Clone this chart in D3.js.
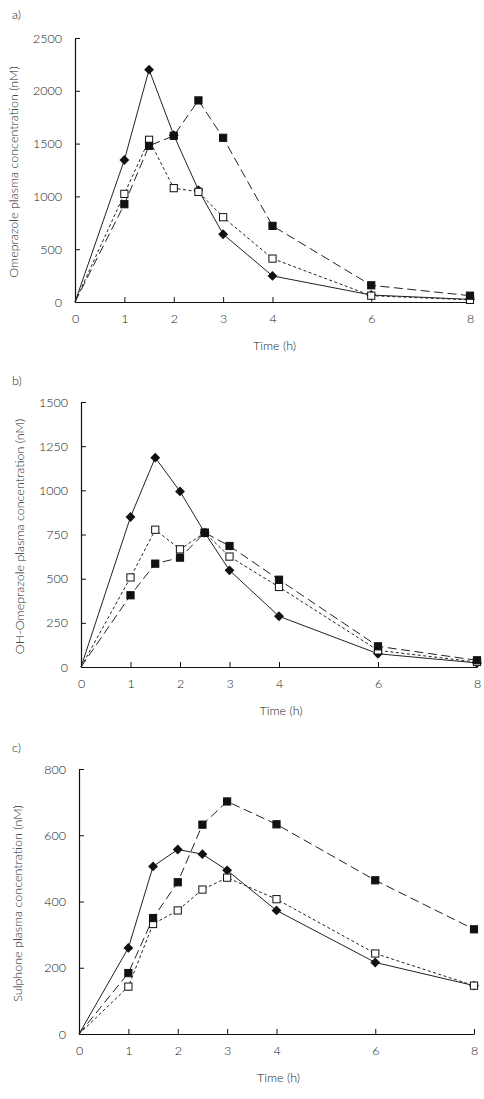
<!DOCTYPE html>
<html><head><meta charset="utf-8">
<script src="https://cdn.jsdelivr.net/npm/d3@7"></script>
<style>
html,body{margin:0;padding:0;background:#fff;}
text{font-family:Lato,"Open Sans",sans-serif;fill:#222;font-weight:300;}
</style></head>
<body>
<svg id="chart" width="484" height="1099"></svg>
<script>
const times = [0, 1, 1.5, 2, 2.5, 3, 4, 6, 8];
const xTicks = [0, 1, 2, 3, 4, 6, 8];

const omeDiamond = [0, 1345, 2200, 1580, 1060, 642, 247, 66, 25];
const omeFilled  = [0, 926, 1479, 1574, 1909, 1555, 721, 158, 60];
const omeOpen    = [0, 1024, 1536, 1078, 1043, 803, 411, 60, 20];
const omeTicks   = [0, 500, 1000, 1500, 2000, 2500];

const ohDiamond = [0, 849, 1185, 994, 760, 547, 287, 75, 23];
const ohFilled  = [0, 406, 585, 619, 760, 685, 494, 117, 38];
const ohOpen    = [0, 507, 777, 666, 760, 625, 453, 94, 28];
const ohTicks   = [0, 250, 500, 750, 1000, 1250, 1500];

const sulDiamond = [0, 260, 506, 557, 543, 494, 373, 216, 146];
const sulFilled  = [0, 184, 350, 458, 632, 702, 633, 464, 316];
const sulOpen    = [0, 143, 332, 373, 436, 472, 407, 243, 146];
const sulTicks   = [0, 200, 400, 600, 800];

const panels = [
  {label: "a)", title: "Omeprazole plasma concentration (nM)", diamond: omeDiamond, filled: omeFilled, open: omeOpen, ticks: omeTicks,
   x0: 75, x1: 470, y0: 302, y1: 38, labY: 19, titleX: 14},
  {label: "b)", title: "OH-Omeprazole plasma concentration (nM)", diamond: ohDiamond, filled: ohFilled, open: ohOpen, ticks: ohTicks,
   x0: 81, x1: 477, y0: 667, y1: 402, labY: 385, titleX: 20},
  {label: "c)", title: "Sulphone plasma concentration (nM)", diamond: sulDiamond, filled: sulFilled, open: sulOpen, ticks: sulTicks,
   x0: 79, x1: 474, y0: 1034, y1: 769, labY: 752, titleX: 18}
];

const svg = d3.select("#chart");

panels.forEach(p => {
  const g = svg.append("g");
  const x = d3.scaleLinear().domain([0, 8]).range([p.x0, p.x1]);
  const y = d3.scaleLinear().domain([0, d3.max(p.ticks)]).range([p.y0, p.y1]);

  const xAxis = d3.axisBottom(x).tickValues(xTicks).tickSizeInner(-5).tickSizeOuter(0).tickPadding(12).tickFormat(d3.format("d"));
  const yAxis = d3.axisLeft(y).tickValues(p.ticks).tickSizeInner(-5).tickSizeOuter(0).tickPadding(13).tickFormat(d3.format("d"));
  const gx = g.append("g").attr("transform", `translate(0,${p.y0})`).call(xAxis);
  const gy = g.append("g").attr("transform", `translate(${p.x0},0)`).call(yAxis);
  [gx, gy].forEach(a => {
    a.select(".domain").attr("stroke", "#111").attr("stroke-width", 1.2);
    a.selectAll(".tick line").attr("stroke", "#111").attr("stroke-width", 1);
    a.selectAll(".tick text").style("font-family", "Lato, 'Open Sans', sans-serif").style("font-weight", "300")
      .style("font-size", "12.5px").attr("fill", "#222");
  });

  g.append("text").attr("x", 12).attr("y", p.labY).style("font-size", "12.5px").text(p.label);
  g.append("text").attr("x", (p.x0 + p.x1) / 2 + 2).attr("y", p.y0 + 48).attr("text-anchor", "middle")
    .style("font-size", "12.5px").text("Time (h)");
  g.append("text").attr("transform", `translate(${p.titleX},${(p.y0 + p.y1) / 2 + 2}) rotate(-90)`)
    .attr("text-anchor", "middle").attr("dy", "0.35em").style("font-size", "12.5px").text(p.title);

  const line = d3.line().x((d, i) => x(times[i])).y(d => y(d));

  const series = [
    {data: p.diamond, dash: null, kind: "diamond"},
    {data: p.open, dash: "3,2.5", kind: "open"},
    {data: p.filled, dash: "9,4.5", kind: "filled"}
  ];
  series.forEach(s => {
    g.append("path").datum(s.data).attr("d", line).attr("fill", "none")
      .attr("stroke", "#222").attr("stroke-width", 1)
      .attr("stroke-dasharray", s.dash);
  });
  series.forEach(s => {
    const pts = s.data.map((v, i) => [x(times[i]), y(v), i]).filter(d => d[2] > 0);
    if (s.kind === "diamond") {
      g.selectAll(null).data(pts).enter().append("path")
        .attr("d", d3.symbol().type(d3.symbolDiamond2).size(62))
        .attr("transform", d => `translate(${d[0]},${d[1]})`)
        .attr("fill", "#111");
    } else {
      g.selectAll(null).data(pts).enter().append("rect")
        .attr("x", d => d[0] - 3.6).attr("y", d => d[1] - 3.6)
        .attr("width", 7.2).attr("height", 7.2)
        .attr("fill", s.kind === "filled" ? "#111" : "#fff")
        .attr("stroke", "#111").attr("stroke-width", 1);
    }
  });
});
</script>
</body></html>
